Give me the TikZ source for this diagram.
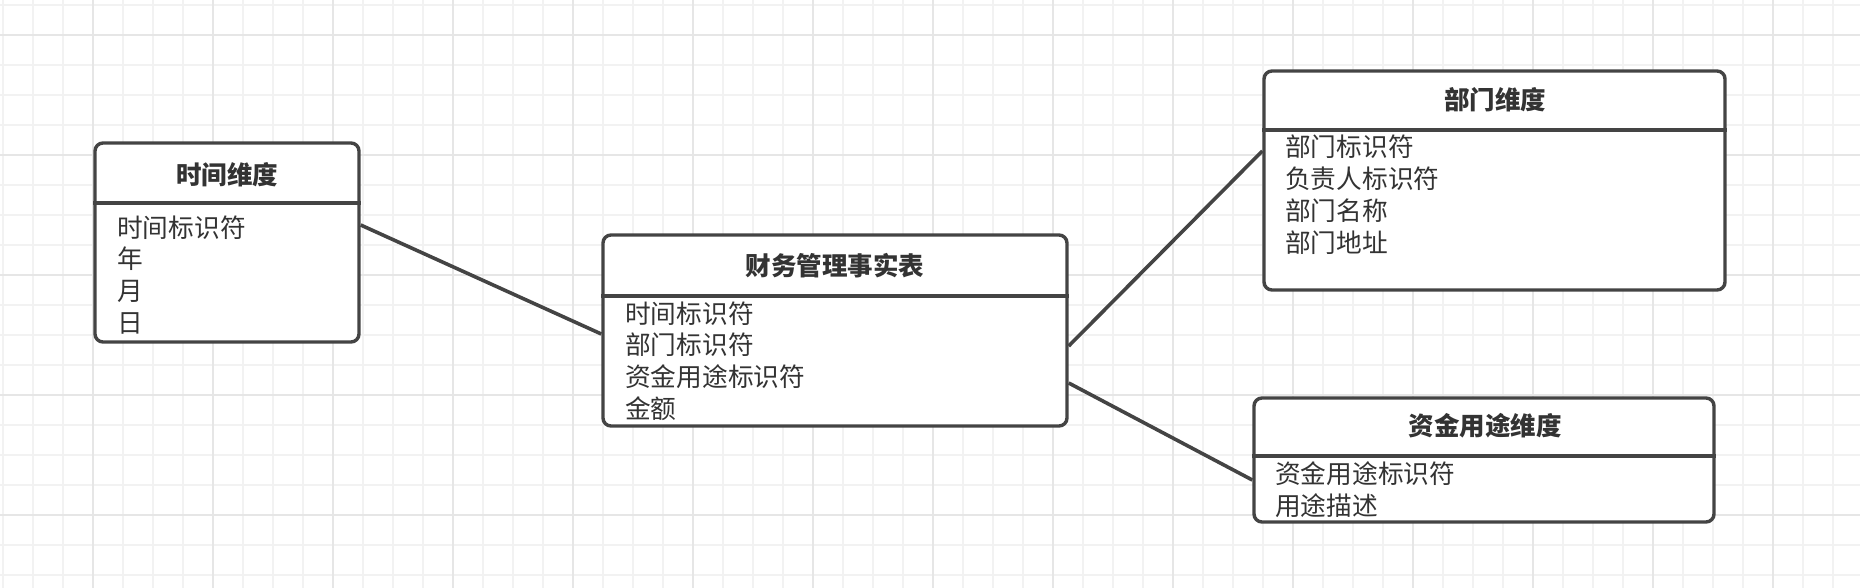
\documentclass[tikz,border=0pt]{standalone}
\usepackage{fontspec}
\setmainfont{Noto Sans CJK SC}
\newfontfamily\cjk{Noto Sans CJK SC}
\definecolor{gridminor}{HTML}{F2F2F2}
\definecolor{gridmajor}{HTML}{E6E6E6}
\definecolor{boxline}{HTML}{444444}
\definecolor{txt}{HTML}{333333}
\tikzset{
  tbox/.style={draw=boxline, line width=3.4pt, rounded corners=8pt, fill=white, inner sep=0pt},
  divline/.style={draw=boxline, line width=3.2pt},
  conn/.style={draw=boxline, line width=3.6pt},
  head/.style={font=\cjk\bfseries\fontsize{25.5}{30}\selectfont, text=txt, inner sep=0pt},
  item/.style={font=\cjk\fontsize{25.7}{30}\selectfont, text=txt, inner sep=0pt, anchor=base west},
  gminor/.style={draw=gridminor, line width=2.2pt},
  gmajor/.style={draw=gridmajor, line width=2.6pt}
}
\begin{document}
\begin{tikzpicture}[x=1pt,y=-1pt]
\useasboundingbox (0,0) rectangle (1860,588);
\fill[white] (0,0) rectangle (1860,588);
% grid
\foreach \k in {0,...,62} { \draw[gminor] (3+30*\k,0) -- (3+30*\k,588); }
\foreach \k in {0,...,19} { \draw[gminor] (0,5+30*\k) -- (1860,5+30*\k); }
\foreach \k in {0,...,15} { \draw[gmajor] (93+120*\k,0) -- (93+120*\k,588); }
\foreach \k in {0,...,4} { \draw[gmajor] (0,35+120*\k) -- (1860,35+120*\k); }

% boxes
\node[tbox, minimum width=264pt, minimum height=199pt] (time) at (227,242.5) {};
\node[tbox, minimum width=464pt, minimum height=191pt] (fact) at (835,330.5) {};
\node[tbox, minimum width=461pt, minimum height=219pt] (dept) at (1494.5,180.5) {};
\node[tbox, minimum width=460pt, minimum height=124pt] (fund) at (1484,460) {};

% dividers
\draw[divline] (time.west |- 0,203) -- (time.east |- 0,203);
\draw[divline] (fact.west |- 0,296) -- (fact.east |- 0,296);
\draw[divline] (dept.west |- 0,130) -- (dept.east |- 0,130);
\draw[divline] (fund.west |- 0,456) -- (fund.east |- 0,456);

% headers
\node[head] (timeh) at (227,175) {时间维度};
\node[head] (facth) at (835,266) {财务管理事实表};
\node[head] (depth) at (1495,100) {部门维度};
\node[head] (fundh) at (1485,426) {资金用途维度};

% items
\foreach \t [count=\i] in {时间标识符,年,月,日}
  \node[item] (time-\i) at (117,237+31.7*\i-31.7) {\t};
\foreach \t [count=\i] in {时间标识符,部门标识符,资金用途标识符,金额}
  \node[item] (fact-\i) at (625,323+31.7*\i-31.7) {\t};
\foreach \t [count=\i] in {部门标识符,负责人标识符,部门名称,部门地址}
  \node[item] (dept-\i) at (1285,157+31.7*\i-31.7) {\t};
\foreach \t [count=\i] in {资金用途标识符,用途描述}
  \node[item] (fund-\i) at (1275,483+32*\i-32) {\t};

% connectors
\draw[conn] ([yshift=17.5pt]time.east) -- ([yshift=-3.5pt]fact.west);
\draw[conn] ([yshift=-15.5pt]fact.east) -- ([yshift=29.5pt]dept.west);
\draw[conn] ([yshift=-52.5pt]fact.east) -- ([yshift=-20pt]fund.west);
\end{tikzpicture}
\end{document}
